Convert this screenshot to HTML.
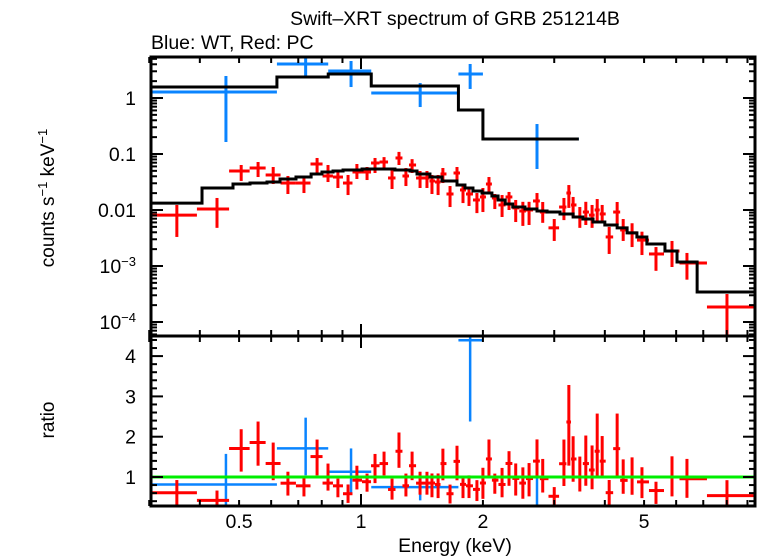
<!DOCTYPE html>
<html><head><meta charset="utf-8"><style>
html,body{margin:0;padding:0;background:#fff;}
svg{display:block;font-family:"Liberation Sans",sans-serif;}
</style></head><body>
<svg id="chart" width="758" height="556" viewBox="0 0 758 556" xmlns="http://www.w3.org/2000/svg">
<defs>
<clipPath id="ctop"><rect x="151" y="57" width="604" height="279"/></clipPath>
<clipPath id="cbot"><rect x="151" y="336" width="604" height="170"/></clipPath>
</defs>
<text x="455" y="25" font-size="19.5" text-anchor="middle">Swift–XRT spectrum of GRB 251214B</text>
<text x="151" y="49" font-size="19.5">Blue: WT, Red: PC</text>
<text transform="translate(54,198) rotate(-90)" font-size="19" text-anchor="middle">counts s<tspan dy="-7" font-size="13">−1</tspan><tspan dy="7"> keV</tspan><tspan dy="-7" font-size="13">−1</tspan></text>
<text transform="translate(54,420) rotate(-90)" font-size="19" text-anchor="middle">ratio</text>
<text x="455" y="552" font-size="19.5" text-anchor="middle">Energy (keV)</text>
<g id="gTop" clip-path="url(#ctop)"></g>
<g id="gBot" clip-path="url(#cbot)"></g>
<g id="gAxes"></g>
</svg>
<script>
// ---- data ----
const wtCenter=[0.464,0.73,0.945,1.40,1.86,2.72];
const wtLo=[0.30,0.62,0.83,1.06,1.74,2.0];
const wtHi=[0.62,0.83,1.06,1.74,2.0,3.45];
const wtVal=[1.28,4.05,3.03,1.23,2.68,0.185];
const wtErrHi=[2.47,5.86,4.58,1.85,4.05,0.343];
const wtErrLo=[0.164,2.47,1.57,0.69,1.45,0.054];
const wtModelEdges=[0.30,0.62,0.83,1.06,1.74,2.0,3.45];
const wtModel=[1.57,2.37,2.68,1.64,0.61,0.185];

const pcEnergy=[0.351,0.441,0.506,0.557,0.607,0.660,0.723,0.779,0.829,0.877,0.929,0.977,1.035,1.083,1.140,1.193,1.241,1.291,1.337,1.399,1.455,1.497,1.550,1.593,1.659,1.726,1.786,1.848,1.933,2.00,2.07,2.14,2.23,2.32,2.41,2.51,2.60,2.72,2.81,3.00,3.17,3.26,3.34,3.47,3.59,3.72,3.83,3.94,4.10,4.29,4.44,4.67,4.94,5.35,5.86,6.38,8.01];
const pcVal=[0.0081,0.0104,0.0497,0.0562,0.0422,0.0303,0.0303,0.0663,0.0405,0.0388,0.0303,0.0477,0.0477,0.0691,0.072,0.0373,0.0849,0.0405,0.0636,0.0373,0.0373,0.033,0.0316,0.044,0.0193,0.0458,0.0228,0.0193,0.0151,0.0171,0.0291,0.0164,0.0123,0.0171,0.0109,0.0096,0.01,0.0145,0.0092,0.0048,0.0113,0.0201,0.0123,0.0075,0.0092,0.0081,0.01,0.0085,0.0033,0.0092,0.0044,0.0039,0.0029,0.00164,0.00185,0.00113,0.000185];
const pcErrHi=[0.0123,0.0164,0.0636,0.072,0.0586,0.0405,0.0388,0.0849,0.0636,0.0477,0.0422,0.0663,0.0586,0.0849,0.088,0.0518,0.109,0.0562,0.081,0.0497,0.0497,0.0422,0.0422,0.0562,0.0268,0.0586,0.0279,0.0257,0.0201,0.0247,0.0388,0.0193,0.0185,0.021,0.0151,0.014,0.014,0.0201,0.0139,0.0069,0.0164,0.0279,0.0171,0.0113,0.014,0.0123,0.0157,0.0123,0.005,0.0139,0.0069,0.0058,0.0041,0.00218,0.0028,0.00171,0.000316];
const pcErrLo=[0.0033,0.0048,0.033,0.0388,0.0291,0.0193,0.0201,0.0458,0.0316,0.0247,0.0185,0.0358,0.0343,0.0458,0.0562,0.0237,0.0636,0.0268,0.0458,0.0247,0.0247,0.0193,0.0185,0.0303,0.0113,0.0303,0.0133,0.0118,0.0088,0.0092,0.0201,0.0104,0.0075,0.01,0.0061,0.0052,0.0054,0.0104,0.0059,0.0028,0.0066,0.0109,0.0075,0.0048,0.0054,0.0048,0.0061,0.0059,0.00164,0.0054,0.0028,0.00218,0.00157,0.00082,0.00096,0.00057,0.00005];
const pcRangeLo=0.30, pcRangeHi=9.5;
const pcModelEdges=[0.30,0.405,0.483,0.532,0.586,0.631,0.691,0.753,0.801,0.853,0.903,1.006,1.213,1.321,1.375,1.48,1.585,1.726,1.806,1.89,1.99,2.105,2.18,2.27,2.37,2.54,2.72,2.88,3.10,3.34,3.53,3.74,4.00,4.29,4.54,4.80,5.08,5.63,6.03,6.76,9.50];
const pcModel=[0.0133,0.0247,0.0291,0.0303,0.0316,0.0358,0.0388,0.044,0.0477,0.0497,0.0518,0.054,0.0518,0.0497,0.044,0.0388,0.033,0.0279,0.0247,0.0218,0.0201,0.0178,0.0151,0.0128,0.0113,0.0104,0.0096,0.0092,0.0085,0.0075,0.0069,0.0061,0.0054,0.0048,0.0039,0.0033,0.00247,0.00185,0.00118,0.000343];

const xTickVals=[0.5,1,2,5];
const xTickLabels=["0.5","1","2","5"];
const yTopDecades=[1,0.1,0.01,0.001,0.0001];
const yTopLabels=["1","0.1","0.01","10|−3","10|−4"];
const ratioTicks=[1,2,3,4];
const ratioLabels=["1","2","3","4"];

// ---- axes ----
const L=151,R=755,T=57,M=336,B=506;
const X=e=>361+405*Math.log10(e);
const YT=v=>98-56*Math.log10(v);
const YB=r=>477-40.3*(r-1);
const NS="http://www.w3.org/2000/svg";
function mk(tag,attrs,parent){const el=document.createElementNS(NS,tag);for(const k in attrs)el.setAttribute(k,attrs[k]);parent.appendChild(el);return el;}
const gTop=document.getElementById('gTop'),gBot=document.getElementById('gBot'),gAx=document.getElementById('gAxes');
const BLUE="#0a84ff",RED="#ff0000";

function stepPath(edges,vals,Y){let d="";for(let i=0;i<vals.length;i++){const x0=X(edges[i]),x1=X(edges[i+1]),y=Y(vals[i]);d+=(i===0?"M":"L")+x0+","+y+"L"+x1+","+y;}return d;}
function modelAt(edges,vals,e){for(let i=0;i<vals.length;i++){if(e>=edges[i]&&e<=edges[i+1])return vals[i];}return vals[vals.length-1];}
function cross(g,x0,x1,xc,y,yhi,ylo,color,w,name){
  const h=mk('line',{x1:x0,y1:y,x2:x1,y2:y,stroke:color,'stroke-width':w},g);
  
  
  const v=mk('line',{x1:xc,y1:yhi,x2:xc,y2:ylo,stroke:color,'stroke-width':w},g);
  
  
}
const pcLo=[],pcHi=[];
for(let i=0;i<pcEnergy.length;i++){
  pcLo.push(i===0?pcRangeLo:Math.sqrt(pcEnergy[i-1]*pcEnergy[i]));
  pcHi.push(i===pcEnergy.length-1?pcRangeHi:Math.sqrt(pcEnergy[i]*pcEnergy[i+1]));
}
for(let i=0;i<wtVal.length;i++)cross(gTop,X(wtLo[i]),X(wtHi[i]),X(wtCenter[i]),YT(wtVal[i]),YT(wtErrHi[i]),YT(wtErrLo[i]),BLUE,3,'wt-point');
for(let i=0;i<pcVal.length;i++)cross(gTop,X(pcLo[i]),X(pcHi[i]),X(pcEnergy[i]),YT(pcVal[i]),YT(pcErrHi[i]),YT(Math.max(pcErrLo[i],1e-6)),RED,3,'pc-point');
const m1=mk('path',{d:stepPath(wtModelEdges,wtModel,YT),fill:'none',stroke:'#000','stroke-width':3},gTop);


const m2=mk('path',{d:stepPath(pcModelEdges,pcModel,YT),fill:'none',stroke:'#000','stroke-width':3},gTop);


for(let i=0;i<wtVal.length;i++){const m=modelAt(wtModelEdges,wtModel,wtCenter[i]);cross(gBot,X(wtLo[i]),X(wtHi[i]),X(wtCenter[i]),YB(wtVal[i]/m),YB(wtErrHi[i]/m),YB(wtErrLo[i]/m),BLUE,2.5,'wt-ratio');}
for(let i=0;i<pcVal.length;i++){const m=modelAt(pcModelEdges,pcModel,pcEnergy[i]);cross(gBot,X(pcLo[i]),X(pcHi[i]),X(pcEnergy[i]),YB(pcVal[i]/m),YB(pcErrHi[i]/m),YB(pcErrLo[i]/m),RED,3,'pc-ratio');}
const gl=mk('line',{x1:L,x2:R,y1:YB(1),y2:YB(1),stroke:'#00ee00','stroke-width':3},gBot);



[[L,T,R-L,M-T],[L,M,R-L,B-M]].forEach((r,i)=>{const f=mk('rect',{x:r[0],y:r[1],width:r[2],height:r[3],fill:'none',stroke:'#000','stroke-width':3},gAx);

});
function tk(x1,y1,x2,y2,w){mk('line',{x1,y1,x2,y2,stroke:'#000','stroke-width':w||2},gAx);}
for(let dec=0.1;dec<=10;dec*=10){for(let k=1;k<10;k++){const e=dec*k;if(e<0.3||e>9.5)continue;const x=X(e);const maj=(k===1);const len=maj?12:6;
 tk(x,T,x,T+len);tk(x,M,x,M-len);tk(x,M,x,M+len);tk(x,B,x,B-len);}}
for(let d=-5;d<=0;d++){for(let k=1;k<10;k++){const v=Math.pow(10,d)*k;const y=YT(v);if(y<T||y>M)continue;const len=k===1?12:6;tk(L,y,L+len,y);tk(R,y,R-len,y);}}
for(let r=0.4;r<=4.5;r+=0.2){const y=YB(r);if(y<M||y>B)continue;const maj=Math.abs(r-Math.round(r))<0.01;const len=maj?12:6;tk(L,y,L+len,y);tk(R,y,R-len,y);}
xTickVals.forEach((v,i)=>{const t=mk('text',{x:X(v),y:528,'font-size':19.5,'text-anchor':'middle'},gAx);t.textContent=xTickLabels[i];

});
yTopDecades.forEach((v,i)=>{const t=mk('text',{x:136,y:YT(v)+7,'font-size':19.5,'text-anchor':'end'},gAx);
 const p=yTopLabels[i].split('|');t.textContent=p[0];if(p[1]){const s=mk('tspan',{dy:-7,'font-size':13},t);s.textContent=p[1];}
 
 });
ratioTicks.forEach((v,i)=>{const t=mk('text',{x:136,y:YB(v)+7,'font-size':19.5,'text-anchor':'end'},gAx);t.textContent=ratioLabels[i];

});
</script>
</body></html>
